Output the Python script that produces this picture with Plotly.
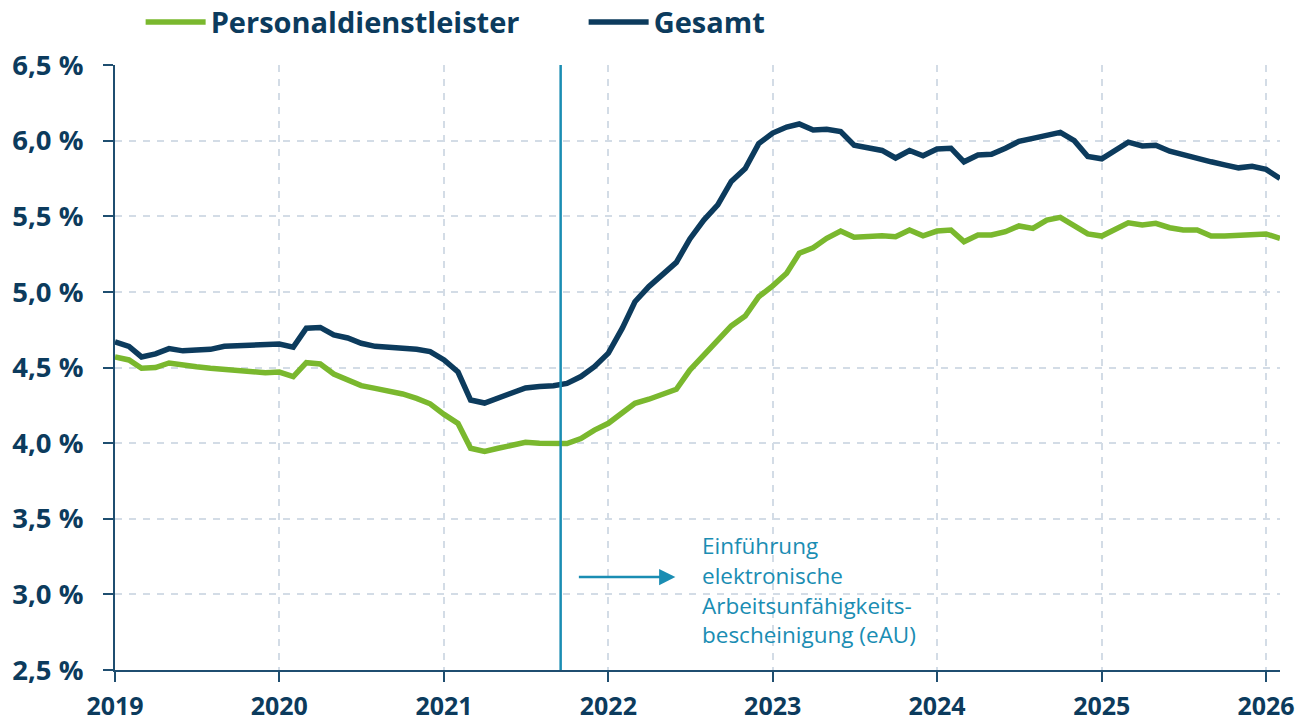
import plotly.graph_objects as go
import pandas as pd

# ---- data ----
months = pd.date_range("2019-01-01", "2026-02-01", freq="MS")

personaldienstleister = [
    4.57, 4.55, 4.495, 4.50, 4.53, 4.515, 4.505, 4.495, 4.488, 4.478, 4.468, 4.466,
    4.47, 4.44, 4.532, 4.523, 4.457, 4.42, 4.38, 4.362, 4.345, 4.325, 4.296, 4.26,
    4.19, 4.13, 3.966, 3.945, 3.966, 3.985, 4.005, 4.0, 4.0, 3.997, 4.03, 4.086,
    4.131, 4.197, 4.263, 4.29, 4.318, 4.356, 4.483, 4.583, 4.671, 4.775, 4.84, 4.968,
    5.04, 5.123, 5.255, 5.292, 5.354, 5.402, 5.361, 5.365, 5.371, 5.365, 5.409, 5.371,
    5.402, 5.409, 5.332, 5.376, 5.376, 5.398, 5.436, 5.42, 5.475, 5.493, 5.436, 5.383,
    5.369, 5.414, 5.457, 5.442, 5.453, 5.424, 5.409, 5.409, 5.369, 5.369, 5.376, 5.383,
    5.383, 5.354,
]

gesamt = [
    4.67, 4.64, 4.57, 4.59, 4.625, 4.61, 4.615, 4.62, 4.64, 4.645, 4.65, 4.655,
    4.655, 4.635, 4.76, 4.765, 4.715, 4.695, 4.66, 4.64, 4.635, 4.625, 4.62, 4.605,
    4.55, 4.47, 4.285, 4.265, 4.295, 4.33, 4.365, 4.375, 4.38, 4.395, 4.44, 4.505,
    4.595, 4.76, 4.935, 5.035, 5.11, 5.195, 5.35, 5.475, 5.575, 5.73, 5.815, 5.98,
    6.05, 6.09, 6.11, 6.07, 6.075, 6.06, 5.97, 5.955, 5.935, 5.885, 5.935, 5.9,
    5.945, 5.95, 5.86, 5.905, 5.91, 5.95, 5.995, 6.015, 6.035, 6.055, 6.0, 5.895,
    5.88, 5.94, 5.99, 5.965, 5.97, 5.93, 5.905, 5.885, 5.86, 5.84, 5.82, 5.83,
    5.81, 5.75,
]

year_ticks = [f"{y}-01-01" for y in range(2019, 2027)]
year_labels = [str(y) for y in range(2019, 2027)]
y_ticks = [2.5, 3.0, 3.5, 4.0, 4.5, 5.0, 5.5, 6.0, 6.5]
y_labels = ["2,5 %", "3,0 %", "3,5 %", "4,0 %", "4,5 %", "5,0 %", "5,5 %", "6,0 %", "6,5 %"]

eau_date = "2021-09-17"
eau_lines = ["Einführung", "elektronische", "Arbeitsunfähigkeits-", "bescheinigung (eAU)"]

# ---- style ----
GREEN = "#7ab82e"
NAVY = "#0c3b5d"
TEAL = "#1a8db3"
AXIS = "#1f4e70"
GRID = "#d3dce6"
FONT = "Open Sans"

fig = go.Figure()
fig.add_trace(go.Scatter(x=months, y=personaldienstleister, mode="lines",
                         name="Personaldienstleister",
                         line=dict(color=GREEN, width=5.5)))
fig.add_trace(go.Scatter(x=months, y=gesamt, mode="lines", name="Gesamt",
                         line=dict(color=NAVY, width=5.5)))

fig.add_shape(type="line", x0=eau_date, x1=eau_date, xref="x",
              y0=0, y1=1, yref="paper", line=dict(color=TEAL, width=2.5))

# arrow
fig.add_annotation(x=0.481, y=0.1537, xref="paper", yref="paper",
                   ax=-98, ay=0, text="", showarrow=True,
                   arrowhead=2, arrowsize=1.3, arrowwidth=2.5, arrowcolor=TEAL)

line_y = [0.2066, 0.1570, 0.1074, 0.0579]
for txt, yy in zip(eau_lines, line_y):
    fig.add_annotation(x=0.502, y=yy, xref="paper", yref="paper",
                       text=txt, showarrow=False, xanchor="left", yanchor="middle",
                       font=dict(family=FONT, size=22.5, color=TEAL))

fig.update_layout(
    width=1303, height=726,
    margin=dict(l=115, r=23, t=65, b=56, autoexpand=False),
    paper_bgcolor="white", plot_bgcolor="white",
    font=dict(family=FONT, color=NAVY),
    showlegend=True,
    legend=dict(orientation="h", x=0.022, xanchor="left", y=1.071, yanchor="middle",
                font=dict(family=FONT, size=29, color=NAVY, weight="bold"),
                itemwidth=60, traceorder="normal", bgcolor="rgba(0,0,0,0)",
                entrywidth=368, entrywidthmode="pixels"),
    xaxis=dict(
        type="date",
        range=["2019-01-01", "2026-02-01"],
        tickvals=year_ticks, ticktext=year_labels,
        showgrid=True, gridcolor=GRID, gridwidth=1.5, griddash="7px,7px",
        showline=True, linecolor=AXIS, linewidth=2,
        ticks="outside", ticklen=10, tickwidth=2, tickcolor=AXIS,
        ticklabelstandoff=3, automargin=False,
        tickfont=dict(family=FONT, size=25, color=NAVY, weight="bold"),
        zeroline=False,
    ),
    yaxis=dict(
        range=[2.5, 6.5],
        tickvals=y_ticks, ticktext=y_labels,
        showgrid=True, gridcolor=GRID, gridwidth=1.5, griddash="7px,7px",
        showline=True, linecolor=AXIS, linewidth=2,
        ticks="outside", ticklen=10, tickwidth=2, tickcolor=AXIS,
        ticklabelstandoff=14, automargin=False,
        tickfont=dict(family=FONT, size=27.5, color=NAVY, weight="bold"),
        zeroline=False,
    ),
)

fig.write_html("out.html",
               config={"displayModeBar": False},
               post_script="document.body.style.margin='0';document.body.style.overflow='hidden';")
